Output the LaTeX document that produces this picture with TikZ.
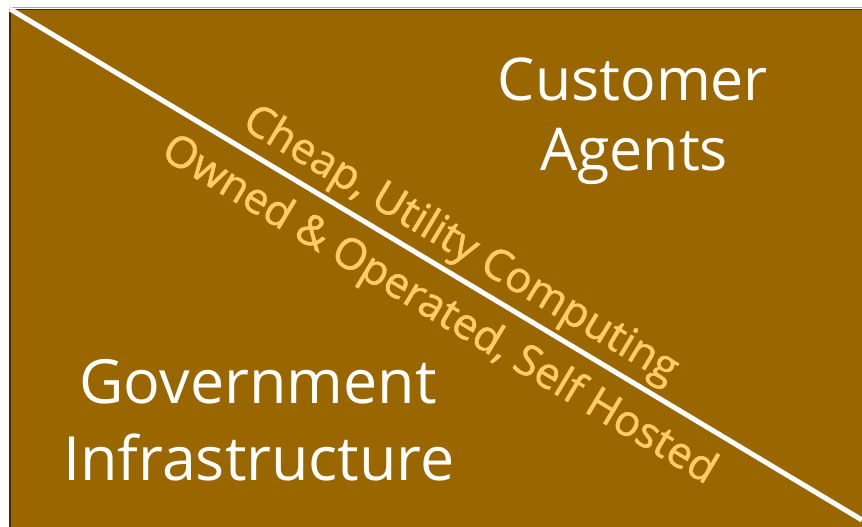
\documentclass[tikz,border=0pt]{standalone}
\usepackage{fontspec}
\setmainfont{Open Sans}
\newfontfamily\diagfont{Open Sans}[FakeBold=1.2]
\definecolor{bgbrown}{HTML}{996600}
\definecolor{labelorange}{HTML}{FFCC66}
\definecolor{edgedark}{HTML}{3A2A10}
\tikzset{
  bigtext/.style={text=white, font=\fontsize{59}{70}\selectfont, inner sep=0pt, anchor=base},
  lowtext/.style={bigtext, font=\fontsize{61}{72}\selectfont},
  diagtext/.style={text=labelorange, font=\diagfont\fontsize{43}{50}\selectfont, inner sep=0pt, anchor=base, rotate=-30.96},
}
\begin{document}
\begin{tikzpicture}[x=1pt,y=-1pt]
\useasboundingbox[fill=white] (0,0) rectangle (862,527);
\fill[bgbrown] (10,9) rectangle (862,527);
\draw[gray!70, line width=1pt] (10,8) -- (862,8);
\draw[edgedark, line width=1.5pt] (10,527) -- (10,9.5) -- (862,9.5);
\coordinate (tl) at (10,9);
\coordinate (br) at (862,520);
\draw[white, line width=5pt] (tl) -- (br);
\node[bigtext] (cust) at (633,100) {Customer};
\node[bigtext] (agents) at (634,170) {Agents};
\node[lowtext] (gov) at (258,403) {Government};
\node[lowtext] (infra) at (259,480) {Infrastructure};
\node[diagtext] (cheap) at (454.4,255.7) {Cheap, Utility Computing};
\node[diagtext] (owned) at (432.8,320.9) {Owned \& Operated, Self Hosted};
\end{tikzpicture}
\end{document}
